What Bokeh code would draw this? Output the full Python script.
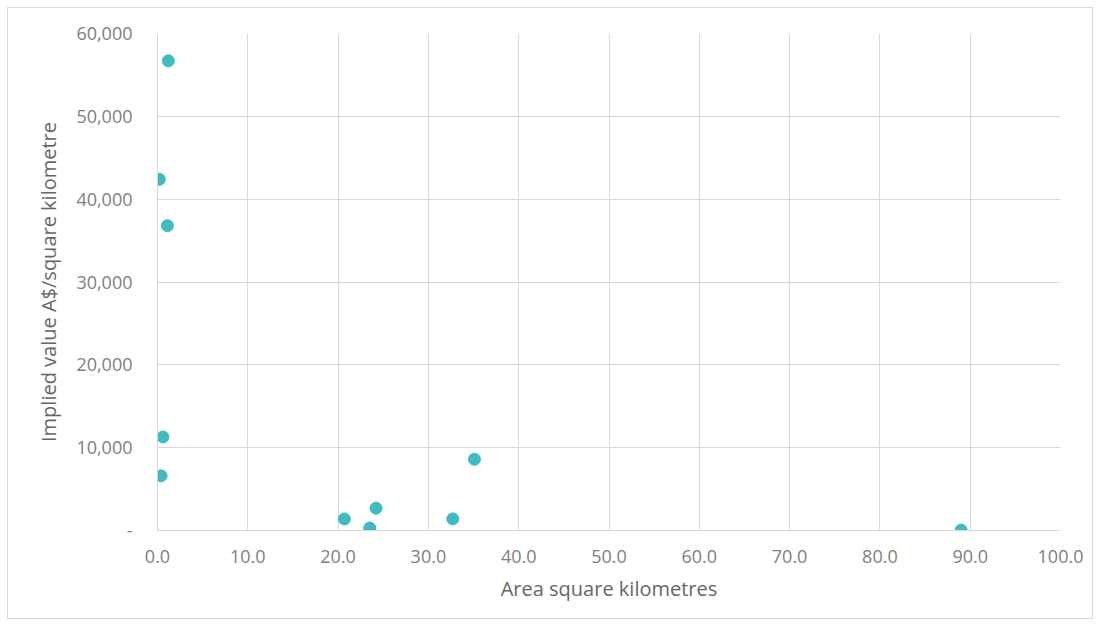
from bokeh.plotting import figure
from bokeh.models import FixedTicker, NumeralTickFormatter, Range1d, ColumnDataSource
from bokeh.embed import file_html
from bokeh.resources import INLINE

area_km2 = [1.2, 0.2, 1.1, 0.6, 0.4, 20.7, 24.2, 23.5, 32.7, 35.1, 89.0]
value_per_km2 = [56700, 42400, 36800, 11300, 6600, 1400, 2700, 300, 1400, 8600, 50]

x_ticks = [0, 10, 20, 30, 40, 50, 60, 70, 80, 90, 100]
y_ticks = [0, 10000, 20000, 30000, 40000, 50000, 60000]

FONT = "Open Sans"
GRID = "#d9d9d9"

p = figure(width=1086, height=612, output_backend="svg", toolbar_location=None,
           x_range=Range1d(0, 100), y_range=Range1d(0, 60000),
           min_border_left=149, min_border_right=34, min_border_top=25, min_border_bottom=90)
p.styles = {"border": "1px solid #d9d9d9", "margin-left": "7px", "margin-top": "7px"}
p.outline_line_color = None
p.background_fill_color = "white"
p.border_fill_color = "white"

src = ColumnDataSource(dict(x=area_km2, y=value_per_km2))
p.scatter("x", "y", source=src, size=12, fill_color="#3fbcc0", line_color="#3fbcc0")

p.xaxis.ticker = FixedTicker(ticks=x_ticks)
p.yaxis.ticker = FixedTicker(ticks=y_ticks)
p.xaxis.formatter = NumeralTickFormatter(format="0.0")
p.yaxis.formatter = NumeralTickFormatter(format="0,0")
p.yaxis.major_label_overrides = {0: "-"}

for ax in (p.xaxis, p.yaxis):
    ax.axis_line_color = GRID
    ax.major_tick_line_color = None
    ax.minor_tick_line_color = None
    ax.major_tick_out = 0
    ax.major_tick_in = 0
    ax.major_label_text_font = FONT
    ax.major_label_text_font_size = "18px"
    ax.major_label_text_color = "#808080"
    ax.axis_label_text_font = FONT
    ax.axis_label_text_font_size = "20px"
    ax.axis_label_text_font_style = "normal"
    ax.axis_label_text_color = "#666666"

p.xaxis.axis_label = "Area square kilometres"
p.yaxis.axis_label = "Implied value A$/square kilometre"
p.xaxis.major_label_standoff = 19
p.yaxis.major_label_standoff = 25
p.xaxis.axis_label_standoff = 9
p.yaxis.axis_label_standoff = 11

p.xgrid.grid_line_color = GRID
p.ygrid.grid_line_color = GRID

open("out.html", "w").write(file_html(p, INLINE))
